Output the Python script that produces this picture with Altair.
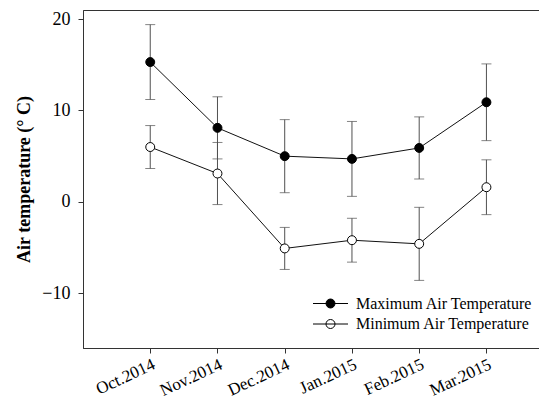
import json
import altair as alt
import pandas as pd

months = ["Oct.2014", "Nov.2014", "Dec.2014", "Jan.2015", "Feb.2015", "Mar.2015"]
max_temp = [15.3, 8.1, 5.0, 4.7, 5.9, 10.9]
max_err = [4.1, 3.4, 4.0, 4.1, 3.4, 4.2]
min_temp = [6.0, 3.1, -5.1, -4.2, -4.6, 1.6]
min_err = [2.35, 3.4, 2.3, 2.4, 4.0, 3.0]
series_names = ["Maximum Air Temperature", "Minimum Air Temperature"]
y_ticks = [-10, 0, 10, 20]

rows = []
for name, vals, errs in [(series_names[0], max_temp, max_err),
                         (series_names[1], min_temp, min_err)]:
    for i, (m, v, e) in enumerate(zip(months, vals, errs)):
        rows.append(dict(idx=i, month=m, series=name, value=v, lo=v - e, hi=v + e))
df = pd.DataFrame(rows)

FONT = "Liberation Serif"
AX = "#333333"
xscale = alt.Scale(domain=[-1, 5.99], nice=False, zero=False)
yscale = alt.Scale(domain=[-16, 21], nice=False, zero=False)

x_axis = alt.Axis(values=list(range(len(months))),
                  labelExpr=json.dumps(months) + "[datum.value]",
                  labelAngle=335, labelAlign="right", labelBaseline="top",
                  labelFontSize=17, labelPadding=3, tickSize=5, labelOverlap=False,
                  title=None, grid=False)
y_axis = alt.Axis(values=y_ticks, title="Air temperature (° C)",
                  titleFontSize=18, titleFontWeight="bold", titlePadding=8,
                  labelFontSize=18, labelPadding=8, tickSize=5, grid=False)

X = alt.X("idx:Q", scale=xscale, axis=x_axis)

base = alt.Chart(df)

err_rule = base.mark_rule(color="#505050", strokeWidth=1).encode(
    x=X, y=alt.Y("lo:Q", scale=yscale, axis=y_axis), y2="hi:Q",
    detail="series:N")
cap_lo = base.mark_tick(orient="horizontal", size=10, thickness=1, color="#505050").encode(
    x=X, y=alt.Y("lo:Q", scale=yscale, axis=y_axis))
cap_hi = base.mark_tick(orient="horizontal", size=10, thickness=1, color="#505050").encode(
    x=X, y=alt.Y("hi:Q", scale=yscale, axis=y_axis))
lines = base.mark_line(color="#111111", strokeWidth=1).encode(
    x=X, y=alt.Y("value:Q", scale=yscale, axis=y_axis), detail="series:N")

legend_symbol = "M-1.75,0L1.75,0M0.45,0A0.45,0.45 0 1,1 -0.45,0A0.45,0.45 0 1,1 0.45,0Z"
points = base.mark_point(filled=True, size=80, stroke="black", strokeWidth=1, opacity=1).encode(
    x=X, y=alt.Y("value:Q", scale=yscale, axis=y_axis),
    fill=alt.Fill("series:N",
                  scale=alt.Scale(domain=series_names, range=["black", "white"]),
                  legend=alt.Legend(title=None, orient="none", legendX=237, legendY=283,
                                    symbolType=legend_symbol, symbolSize=400,
                                    symbolStrokeColor="black", symbolStrokeWidth=1,
                                    labelFontSize=16, labelFont=FONT, labelColor="black",
                                    labelOffset=15, labelLimit=0, rowPadding=1.5, padding=0)))

chart = alt.layer(err_rule, cap_lo, cap_hi, lines, points).properties(
    width=470, height=338,
    autosize=alt.AutoSizeParams(type="none"),
    padding={"left": 75, "top": 2, "right": -14, "bottom": 54},
).configure_view(stroke=AX, strokeWidth=1).configure_axis(
    labelFont=FONT, titleFont=FONT, labelColor="black", titleColor="black",
    domainColor=AX, tickColor=AX, domainWidth=1, tickWidth=1
)

chart.save("out.html", embed_options={"renderer": "svg", "actions": False})
